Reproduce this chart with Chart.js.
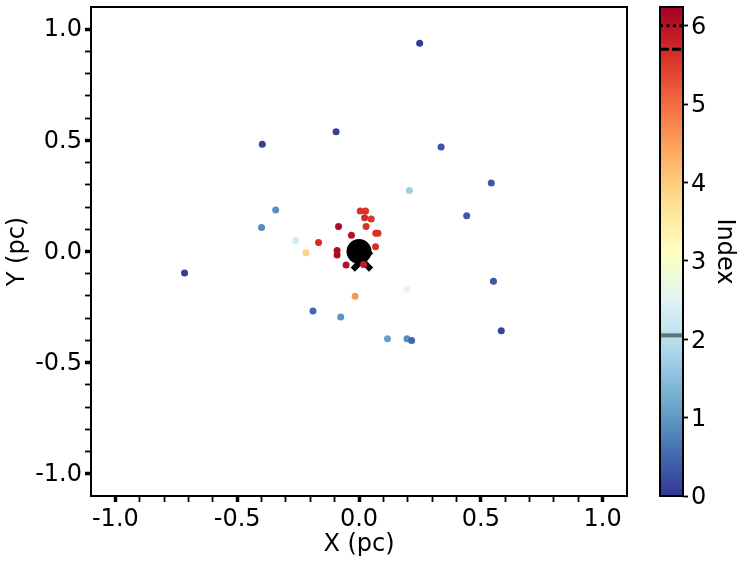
<!DOCTYPE html>
<html>
<head>
<meta charset="utf-8">
<script src="https://cdn.jsdelivr.net/npm/chart.js@4.4.1/dist/chart.umd.min.js"></script>
<style>
  body { margin: 0; background: #fff; }
  #wrap { position: relative; width: 743px; height: 564px; }
  #main { position: absolute; left: 0; top: 0; }
  #cbar { position: absolute; left: 640px; top: 0; }
</style>
</head>
<body>
<div id="wrap">
  <canvas id="main" width="743" height="564"></canvas>
  <canvas id="cbar" width="103" height="564"></canvas>
</div>
<script>
// datos de las estrellas
const xValues = [0.249, -0.094, -0.397, 0.337, 0.543, 0.207, -0.342, 0.442, -0.400, -0.260,
                 -0.218, -0.716, 0.552, 0.196, -0.016, -0.189, -0.075, 0.117, 0.197, 0.216,
                 0.584,
                 0.005, 0.027, 0.023, 0.050, -0.084, 0.029, -0.031, 0.069, 0.078, -0.166,
                 0.068, -0.090, -0.090, -0.053, 0.019];
const yValues = [0.937, 0.539, 0.482, 0.470, 0.308, 0.274, 0.187, 0.161, 0.108, 0.050,
                 -0.006, -0.097, -0.134, -0.170, -0.201, -0.268, -0.295, -0.393, -0.393, -0.400,
                 -0.357,
                 0.182, 0.182, 0.152, 0.146, 0.112, 0.113, 0.073, 0.082, 0.082, 0.040,
                 0.021, 0.004, -0.016, -0.061, -0.058];
const indexValues = [0.05, 0.10, 0.10, 0.30, 0.35, 1.75, 0.90, 0.35, 0.85, 2.30,
                     3.90, 0.05, 0.35, 2.55, 4.60, 0.50, 0.95, 1.10, 0.90, 0.50,
                     0.15,
                     5.60, 5.60, 5.70, 5.55, 6.10, 5.60, 6.00, 5.60, 5.60, 5.65,
                     5.60, 6.10, 6.10, 6.05, 5.90];

// centro
const centerX = [0.0];
const centerY = [0.0];
const crossX = [0.012];
const crossY = [-0.04];

// ejes
const axisMin = -1.1;
const axisMax = 1.1;
const majorTicks = [-1.0, -0.5, 0.0, 0.5, 1.0];
const minorStep = 0.1;

// barra de color
const cbMin = 0;
const cbMax = 6.24;
const cbTicks = [0, 1, 2, 3, 4, 5, 6];
const cbLevels = [2.05, 5.7, 6.0];

// RdYlBu invertido
const cmap = ['#313695', '#4575b4', '#74add1', '#abd9e9', '#e0f3f8', '#ffffbf',
              '#fee090', '#fdae61', '#f46d43', '#d73027', '#a50026'];

function hexToRgb(h) {
  return [parseInt(h.slice(1, 3), 16), parseInt(h.slice(3, 5), 16), parseInt(h.slice(5, 7), 16)];
}
function colorFor(v) {
  let t = (v - cbMin) / (cbMax - cbMin);
  t = Math.max(0, Math.min(1, t)) * (cmap.length - 1);
  const i = Math.min(Math.floor(t), cmap.length - 2);
  const f = t - i;
  const a = hexToRgb(cmap[i]), b = hexToRgb(cmap[i + 1]);
  const c = a.map((x, k) => Math.round(x + (b[k] - x) * f));
  return `rgb(${c[0]},${c[1]},${c[2]})`;
}

const FONT = { family: 'DejaVu Sans', size: 24 };
Chart.defaults.color = '#000';

function tickList() {
  const out = [];
  const n = Math.round((majorTicks[majorTicks.length - 1] - majorTicks[0]) / minorStep);
  for (let i = 0; i <= n; i++) out.push({ value: +(majorTicks[0] + i * minorStep).toFixed(2) });
  return out;
}
const isMajor = v => majorTicks.some(m => Math.abs(m - v) < 1e-6);

function axisOpts(title, isX) {
  return {
    type: 'linear',
    min: axisMin,
    max: axisMax,
    afterBuildTicks: s => { s.ticks = tickList(); },
    afterFit: s => {
      if (isX) { s.height = 68; s.paddingLeft = 0; s.paddingRight = 0; }
      else { s.width = 91; s.paddingTop = 0; s.paddingBottom = 0; }
    },
    ticks: {
      font: FONT,
      color: '#000',
      padding: 3,
      labelOffset: isX ? 0 : 1,
      autoSkip: false,
      maxRotation: 0,
      callback: v => isMajor(v) ? v.toFixed(1) : ''
    },
    grid: {
      drawOnChartArea: false,
      drawTicks: true,
      tickLength: 6,
      tickColor: '#000',
      tickWidth: ctx => isMajor(ctx.tick.value) ? 3.5 : 1.8
    },
    border: { display: false },
    title: {
      display: true,
      text: title,
      font: FONT,
      color: '#000',
      padding: isX ? { top: 0, bottom: 5 } : { top: 3, bottom: 0 }
    }
  };
}

const boxPlugin = {
  id: 'box',
  afterDraw(chart) {
    const a = chart.chartArea, c = chart.ctx;
    c.save();
    c.strokeStyle = '#000';
    c.lineWidth = 2;
    c.strokeRect(a.left, a.top, a.right - a.left, a.bottom - a.top);
    c.restore();
  }
};

new Chart(document.getElementById('main'), {
  type: 'scatter',
  data: {
    datasets: [
      {
        data: xValues.map((x, i) => ({ x: x, y: yValues[i] })),
        pointRadius: 3.5,
        pointBorderWidth: 0,
        pointBackgroundColor: indexValues.map(colorFor)
      },
      {
        data: crossX.map((x, i) => ({ x: x, y: crossY[i] })),
        pointStyle: 'crossRot',
        pointRadius: 13,
        pointBorderWidth: 6,
        pointBorderColor: '#000'
      },
      {
        data: centerX.map((x, i) => ({ x: x, y: centerY[i] })),
        pointRadius: 12.5,
        pointBorderWidth: 0,
        pointBackgroundColor: '#000'
      }
    ]
  },
  options: {
    responsive: false,
    animation: false,
    layout: { autoPadding: false, padding: { left: 0, top: 7, right: 116, bottom: 0 } },
    plugins: { legend: { display: false }, tooltip: { enabled: false } },
    scales: {
      x: axisOpts('X (pc)', true),
      y: axisOpts('Y (pc)', false)
    }
  },
  plugins: [boxPlugin]
});

// barra de color
const cbarPlugin = {
  id: 'cbar',
  beforeDatasetsDraw(chart) {
    const s = chart.scales.y, a = chart.chartArea, c = chart.ctx;
    const y0 = s.getPixelForValue(cbMin), y1 = s.getPixelForValue(cbMax);
    const g = c.createLinearGradient(0, y0, 0, y1);
    cmap.forEach((col, i) => g.addColorStop(i / (cmap.length - 1), col));
    c.save();
    c.fillStyle = g;
    c.fillRect(a.left, y1, a.right - a.left, y0 - y1);

    // niveles
    const styles = [
      { color: '#607272', width: 4, dash: [] },
      { color: '#000', width: 3, dash: [9, 3] },
      { color: '#000', width: 3, dash: [3, 3.5] }
    ];
    cbLevels.forEach((v, i) => {
      const y = s.getPixelForValue(v), st = styles[i];
      c.beginPath();
      c.strokeStyle = st.color;
      c.lineWidth = st.width;
      c.setLineDash(st.dash);
      c.moveTo(a.left, y);
      c.lineTo(a.right, y);
      c.stroke();
    });
    c.setLineDash([]);
    c.strokeStyle = '#000';
    c.lineWidth = 2;
    c.strokeRect(a.left, a.top, a.right - a.left, a.bottom - a.top);
    c.restore();
  }
};

new Chart(document.getElementById('cbar'), {
  type: 'scatter',
  data: { datasets: [{ data: [] }] },
  options: {
    responsive: false,
    animation: false,
    layout: { autoPadding: false, padding: { left: 20, top: 7, right: 0, bottom: 68 } },
    plugins: { legend: { display: false }, tooltip: { enabled: false } },
    scales: {
      x: { display: false, min: 0, max: 1 },
      y: {
        position: 'right',
        min: cbMin,
        max: cbMax,
        afterBuildTicks: s => { s.ticks = cbTicks.map(v => ({ value: v })); },
        afterFit: s => { s.width = 60; s.paddingTop = 0; s.paddingBottom = 0; },
        ticks: { font: FONT, color: '#000', padding: 3, labelOffset: 2, autoSkip: false },
        grid: { drawOnChartArea: false, drawTicks: true, tickLength: 5, tickColor: '#000', tickWidth: 1.8 },
        border: { display: false },
        title: { display: true, text: 'Index', font: FONT, color: '#000', padding: { top: 4, bottom: 0 } }
      }
    }
  },
  plugins: [cbarPlugin]
});
</script>
</body>
</html>
